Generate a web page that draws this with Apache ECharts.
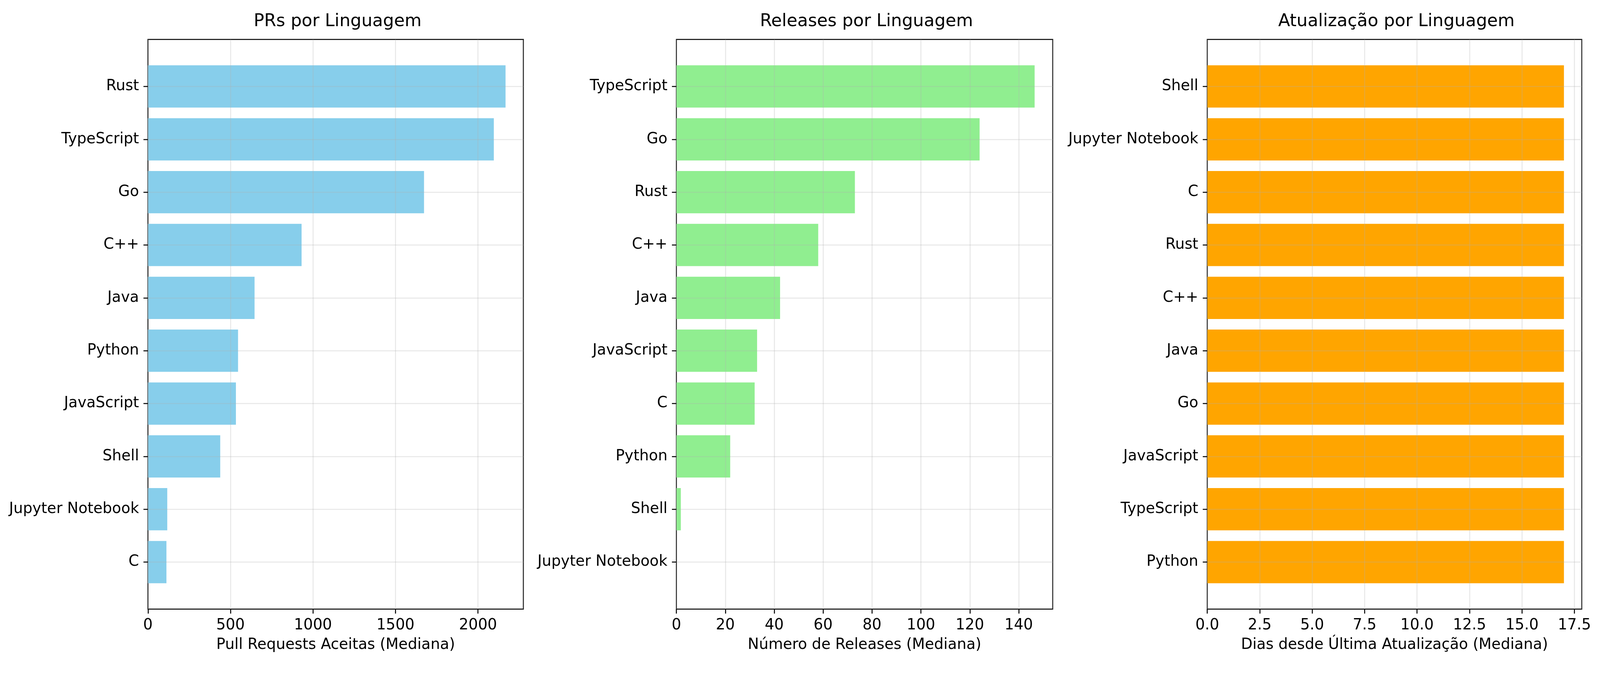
<!DOCTYPE html>
<html>
<head>
<meta charset="utf-8">
<script src="https://cdn.jsdelivr.net/npm/echarts@6/dist/echarts.min.js"></script>
<style>html,body{margin:0;padding:0;background:#fff;overflow:hidden}#chart{width:100vw;height:100vh}</style>
</head>
<body>
<div id="chart"></div>
<script>
// dados (de cima para baixo)
var prLangs = ['Rust', 'TypeScript', 'Go', 'C++', 'Java', 'Python', 'JavaScript', 'Shell', 'Jupyter Notebook', 'C'];
var prValues = [2167, 2096, 1673, 931, 646, 546, 533, 438, 117, 112];

var relLangs = ['TypeScript', 'Go', 'Rust', 'C++', 'Java', 'JavaScript', 'C', 'Python', 'Shell', 'Jupyter Notebook'];
var relValues = [146.5, 124, 73, 58, 42.4, 33, 32, 22, 1.8, 0];

var updLangs = ['Shell', 'Jupyter Notebook', 'C', 'Rust', 'C++', 'Java', 'Go', 'JavaScript', 'TypeScript', 'Python'];
var updValues = [17, 17, 17, 17, 17, 17, 17, 17, 17, 17];

var titles = ['PRs por Linguagem', 'Releases por Linguagem', 'Atualização por Linguagem'];
var xNames = ['Pull Requests Aceitas (Mediana)', 'Número de Releases (Mediana)', 'Dias desde Última Atualização (Mediana)'];

(function(){
    var chart = echarts.init(document.getElementById('chart'));
    var FONT = 'DejaVu Sans';
    // tudo desenhado para 5353x1739 e escalado ao tamanho real
    var W = chart.getWidth(), H = chart.getHeight();
    var sx = W / 5353, sy = H / 1739, s = Math.min(sx, sy);
    var TOP = 101 * sy, BOT = 1560 * sy;
    var unit = (BOT - TOP) / 10.78;
    var panels = [
        {l: 495, r: 1751, max: 2275, interval: 500, color: '#87CEEB', cats: prLangs, vals: prValues, fmt: function(v){return v;}},
        {l: 2263, r: 3522, max: 153.9, interval: 20, color: '#90EE90', cats: relLangs, vals: relValues, fmt: function(v){return v;}},
        {l: 4039, r: 5292, max: 17.85, interval: 2.5, color: '#FFA500', cats: updLangs, vals: updValues, fmt: function(v){return v.toFixed(1);}}
    ];
    var lw = 3.3 * s;
    var gridLine = {show: true, lineStyle: {color: 'rgba(176,176,176,0.3)', width: lw}};
    var grid = [], xAxis = [], yAxis = [], series = [], title = [];

    panels.forEach(function(p, k){
        var left = p.l * sx, right = W - p.r * sx;
        var g0 = grid.length;
        // moldura + eixo x
        grid.push({left: left, right: right, top: TOP, bottom: H - BOT, show: true, borderColor: '#000', borderWidth: lw, backgroundColor: 'transparent'});
        // linhas horizontais nos centros das categorias
        grid.push({left: left, right: right, top: TOP + 0.89 * unit, bottom: H - BOT + 0.89 * unit});
        // barras
        grid.push({left: left, right: right, top: TOP + 0.39 * unit, bottom: H - BOT + 0.39 * unit});

        xAxis.push({gridIndex: g0, type: 'value', min: 0, max: p.max, interval: p.interval, z: 5,
            name: xNames[k], nameLocation: 'middle', nameGap: 96 * s,
            nameTextStyle: {fontFamily: FONT, fontSize: 50 * s, color: '#000'},
            axisLine: {show: false},
            axisTick: {show: true, length: 15 * s, lineStyle: {color: '#000', width: lw}},
            axisLabel: {fontFamily: FONT, fontSize: 50 * s, color: '#000', margin: 30 * s, showMaxLabel: false, formatter: p.fmt},
            splitLine: gridLine});
        yAxis.push({gridIndex: g0, type: 'value', min: 0, max: 1, show: false});

        xAxis.push({gridIndex: g0 + 1, type: 'value', min: 0, max: p.max, show: false});
        yAxis.push({gridIndex: g0 + 1, type: 'value', min: 0, max: 9, interval: 1, inverse: true, z: 5,
            axisLine: {show: false}, axisTick: {show: false}, axisLabel: {show: false}, splitLine: gridLine});

        xAxis.push({gridIndex: g0 + 2, type: 'value', min: 0, max: p.max, show: false});
        yAxis.push({gridIndex: g0 + 2, type: 'category', data: p.cats, inverse: true, z: 5,
            axisLine: {show: false},
            axisTick: {show: true, alignWithLabel: true, length: 15 * s, lineStyle: {color: '#000', width: lw}},
            axisLabel: {fontFamily: FONT, fontSize: 50 * s, color: '#000', margin: 30 * s},
            splitLine: {show: false}});

        series.push({type: 'bar', xAxisIndex: g0 + 2, yAxisIndex: g0 + 2, data: p.vals,
            barWidth: '80%', itemStyle: {color: p.color}, z: 2, silent: true});

        title.push({text: titles[k], left: (p.l + p.r) / 2 * sx, top: 28 * sy, textAlign: 'center',
            textStyle: {fontFamily: FONT, fontSize: 58 * s, fontWeight: 'normal', color: '#000'}});
    });

    chart.setOption({animation: false, backgroundColor: '#fff', title: title, grid: grid, xAxis: xAxis, yAxis: yAxis, series: series});
})();
</script>
</body>
</html>
